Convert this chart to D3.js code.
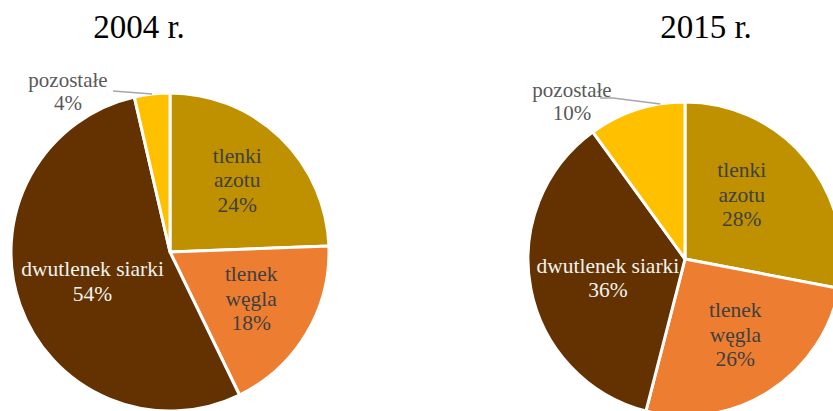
<!DOCTYPE html>
<html><head><meta charset="utf-8">
<script src="https://cdn.jsdelivr.net/npm/d3@7"></script>
<style>html,body{margin:0;padding:0;background:#fff;overflow:hidden}</style>
</head><body>
<svg id="c" width="833" height="411"></svg>
<script>
const categories = ["tlenki azotu", "tlenek węgla", "dwutlenek siarki", "pozostałe"];
const labelLines = [["tlenki", "azotu"], ["tlenek", "węgla"], ["dwutlenek siarki"], ["pozostałe"]];
const years = ["2004 r.", "2015 r."];
const values2004 = [24.4, 18.4, 53.6, 3.6];
const values2015 = [28, 26, 36, 10];
const colors = ["#BF9000", "#ED7D31", "#633200", "#FFC000"];
const textColors = ["#404040", "#404040", "#F2F2F2", "#595959"];

const svg = d3.select("#c");
const font = "Liberation Serif, Times New Roman, serif";

const pies = [
  {title: years[0], values: values2004, cx: 170, cy: 252, r: 159, tx: 139,
   nudge: [[0,-2],[-2,-3],[14,-3],[0,0]],
   outLabel: {x: 68, y: 80}, leader: [[113,91]], leaderAngleFrac: 0.5},
  {title: years[1], values: values2015, cx: 685, cy: 259, r: 157, tx: 706,
   nudge: [[-17,-3],[-1,-5],[17,1],[0,0]],
   outLabel: {x: 572, y: 90}, leader: [[600,98],[613,98]], leaderAngleFrac: 0.75}
];

const pie = d3.pie().sort(null).value(d => d);
const lineH = 24.5;

pies.forEach(p => {
  const g = svg.append("g").attr("transform", `translate(${p.cx},${p.cy})`);
  const arcs = pie(p.values);
  const arc = d3.arc().innerRadius(0).outerRadius(p.r);
  const lblArc = d3.arc().innerRadius(p.r * 0.61).outerRadius(p.r * 0.61);

  g.selectAll("path.slice").data(arcs).join("path")
    .attr("class", "slice")
    .attr("d", arc)
    .attr("fill", (d, i) => colors[i])
    .attr("stroke", "#fff")
    .attr("stroke-width", 3)
    .attr("stroke-linejoin", "round");

  svg.append("text")
    .attr("x", p.tx).attr("y", 38)
    .attr("text-anchor", "middle")
    .attr("font-family", font)
    .attr("font-size", 33)
    .attr("fill", "#000")
    .text(p.title);

  arcs.forEach((d, i) => {
    const lines = labelLines[i].concat([Math.round(d.data) + "%"]);
    if (i === 3) {
      const a = d.startAngle + (d.endAngle - d.startAngle) * p.leaderAngleFrac;
      const end = [p.cx + p.r * Math.sin(a), p.cy - p.r * Math.cos(a)];
      const pts = p.leader.concat([end]);
      svg.append("path")
        .attr("d", d3.line()(pts))
        .attr("fill", "none")
        .attr("stroke", "#A6A6A6")
        .attr("stroke-width", 1.6);
      const t = svg.append("text")
        .attr("text-anchor", "middle")
        .attr("font-family", font)
        .attr("font-size", 21)
        .attr("fill", textColors[i]);
      lines.forEach((s, k) => {
        t.append("tspan").attr("x", p.outLabel.x)
          .attr("y", p.outLabel.y + k * 23)
          .attr("dominant-baseline", "central")
          .text(s);
      });
      return;
    }
    const c = lblArc.centroid(d);
    const x = c[0] + p.nudge[i][0];
    const y = c[1] + p.nudge[i][1];
    const t = g.append("text")
      .attr("text-anchor", "middle")
      .attr("font-family", font)
      .attr("font-size", 21.5)
      .attr("fill", textColors[i]);
    const n = lines.length;
    lines.forEach((s, k) => {
      t.append("tspan").attr("x", x)
        .attr("y", y + (k - (n - 1) / 2) * lineH)
        .attr("dominant-baseline", "central")
        .text(s);
    });
  });
});
</script>
</body></html>
